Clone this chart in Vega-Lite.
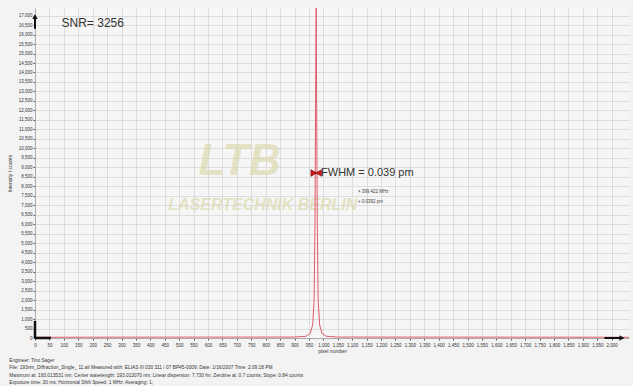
{
  "$schema": "https://vega.github.io/schema/vega-lite/v6.json",
  "width": 594,
  "height": 330,
  "autosize": {"type": "none"},
  "padding": {"left": 35, "top": 8, "right": 4, "bottom": 48},
  "background": "#f3f3f3",
  "config": {
    "view": {"stroke": null, "fill": "#f6f6f6"},
    "font": "Liberation Sans",
    "axis": {
      "labelFontSize": 4.5,
      "labelColor": "#333333",
      "tickSize": 2,
      "tickColor": "#555555",
      "gridColor": "#d2d2d2",
      "gridWidth": 0.7,
      "domainColor": "#aaaaaa",
      "titleFontSize": 5,
      "titleFontWeight": "normal",
      "titleColor": "#333333",
      "labelOverlap": false,
      "labelFlush": false
    }
  },
  "title": {
    "text": [
      "Engineer: Tino Sager",
      "File: 193nm_Diffraction_Single_ 11.ali Measured with: ELIAS III 030 311 / 07 BP45-0009; Date: 1/16/2007 Time: 2:09:18 PM",
      "Maximum at: 193.013531 nm; Center wavelength: 193.013070 nm; Linear dispersion: 7.730 fm; Zeroline at: 0.7 counts; Slope: 0.84 counts",
      "Exposure time: 30 ms; Horizontal Shift Speed: 1 MHz; Averaging: 1;"
    ],
    "orient": "bottom",
    "anchor": "start",
    "fontSize": 4.8,
    "fontWeight": "normal",
    "color": "#333333",
    "lineHeight": 7.5,
    "offset": 4,
    "dx": 2
  },
  "datasets": {
    "spectrum": [
      {"px": 0, "counts": 40},
      {"px": 400, "counts": 45},
      {"px": 900, "counts": 50},
      {"px": 940, "counts": 90},
      {"px": 955, "counts": 250},
      {"px": 963, "counts": 700},
      {"px": 968, "counts": 2000},
      {"px": 971, "counts": 6000},
      {"px": 973, "counts": 12000},
      {"px": 975, "counts": 17400},
      {"px": 977, "counts": 12000},
      {"px": 979, "counts": 6000},
      {"px": 982, "counts": 2000},
      {"px": 987, "counts": 700},
      {"px": 995, "counts": 250},
      {"px": 1010, "counts": 90},
      {"px": 1050, "counts": 50},
      {"px": 1600, "counts": 45},
      {"px": 2060, "counts": 40}
    ],
    "corner": [
      {"x": 0, "y": 0, "x2": 0, "y2": 900},
      {"x": 0, "y": 0, "x2": 55, "y2": 0}
    ],
    "arrows": [
      {"x": 0, "y": 16950, "shape": "triangle-up"},
      {"x": 2035, "y": 0, "shape": "triangle-right"}
    ],
    "arrowShafts": [
      {"x": 0, "y": 16300, "x2": 0, "y2": 17000},
      {"x": 1975, "y": 0, "x2": 2040, "y2": 0}
    ],
    "fwhm": [
      {"x": 967, "y": 8700, "shape": "triangle-right"},
      {"x": 984, "y": 8700, "shape": "triangle-left"}
    ],
    "labels": [
      {"x": 92, "y": 16600, "t": "SNR= 3256", "size": 12},
      {"x": 992, "y": 8700, "t": "FWHM = 0.039 pm", "size": 11}
    ],
    "small": [
      {"x": 1120, "y": 7700, "t": "× 399.422 MHz"},
      {"x": 1120, "y": 7180, "t": "+ 0.0392 pm"}
    ],
    "mark": [
      {"x": 710, "y": 9300, "t": "LTB", "size": 44},
      {"x": 790, "y": 7000, "t": "LASERTECHNIK BERLIN", "size": 16}
    ]
  },
  "encoding": {
    "x": {
      "type": "quantitative",
      "scale": {"domain": [0, 2060], "nice": false, "zero": false},
      "axis": {
        "title": "pixel number",
        "format": ",d",
        "values": [0,50,100,150,200,250,300,350,400,450,500,550,600,650,700,750,800,850,900,950,1000,1050,1100,1150,1200,1250,1300,1350,1400,1450,1500,1550,1600,1650,1700,1750,1800,1850,1900,1950,2000],
        "titlePadding": 2,
        "labelPadding": 2
      }
    },
    "y": {
      "type": "quantitative",
      "scale": {"domain": [0, 17400], "nice": false},
      "axis": {
        "title": "Intensity / counts",
        "format": ",d",
        "values": [0,500,1000,1500,2000,2500,3000,3500,4000,4500,5000,5500,6000,6500,7000,7500,8000,8500,9000,9500,10000,10500,11000,11500,12000,12500,13000,13500,14000,14500,15000,15500,16000,16500,17000],
        "titlePadding": 6,
        "labelPadding": 1
      }
    }
  },
  "layer": [
    {
      "data": {"name": "mark"},
      "mark": {"type": "text", "fontStyle": "italic", "fontWeight": "bold", "color": "#dcdab0", "opacity": 0.7},
      "encoding": {
        "x": {"field": "x"},
        "y": {"field": "y"},
        "text": {"field": "t"},
        "size": {"field": "size", "type": "quantitative", "scale": null, "legend": null}
      }
    },
    {
      "data": {"name": "spectrum"},
      "mark": {"type": "line", "color": "#e05a6a", "strokeWidth": 1},
      "encoding": {
        "x": {"field": "px"},
        "y": {"field": "counts"}
      }
    },
    {
      "data": {"name": "corner"},
      "mark": {"type": "rule", "color": "#111111", "strokeWidth": 2.5},
      "encoding": {
        "x": {"field": "x"},
        "y": {"field": "y"},
        "x2": {"field": "x2"},
        "y2": {"field": "y2"}
      }
    },
    {
      "data": {"name": "arrowShafts"},
      "mark": {"type": "rule", "color": "#111111", "strokeWidth": 2},
      "encoding": {
        "x": {"field": "x"},
        "y": {"field": "y"},
        "x2": {"field": "x2"},
        "y2": {"field": "y2"}
      }
    },
    {
      "data": {"name": "arrows"},
      "mark": {"type": "point", "filled": true, "color": "#111111", "size": 30, "opacity": 1},
      "encoding": {
        "x": {"field": "x"},
        "y": {"field": "y"},
        "shape": {"field": "shape", "type": "nominal", "scale": null, "legend": null}
      }
    },
    {
      "data": {"name": "fwhm"},
      "mark": {"type": "point", "filled": true, "fill": "#dd1111", "stroke": "#551111", "strokeWidth": 0.6, "size": 45, "opacity": 1},
      "encoding": {
        "x": {"field": "x"},
        "y": {"field": "y"},
        "shape": {"field": "shape", "type": "nominal", "scale": null, "legend": null}
      }
    },
    {
      "data": {"name": "labels"},
      "mark": {"type": "text", "align": "left", "baseline": "middle", "color": "#333333"},
      "encoding": {
        "x": {"field": "x"},
        "y": {"field": "y"},
        "text": {"field": "t"},
        "size": {"field": "size", "type": "quantitative", "scale": null, "legend": null}
      }
    },
    {
      "data": {"name": "small"},
      "mark": {"type": "text", "align": "left", "baseline": "middle", "fontSize": 4.5, "color": "#444444"},
      "encoding": {
        "x": {"field": "x"},
        "y": {"field": "y"},
        "text": {"field": "t"}
      }
    }
  ]
}
